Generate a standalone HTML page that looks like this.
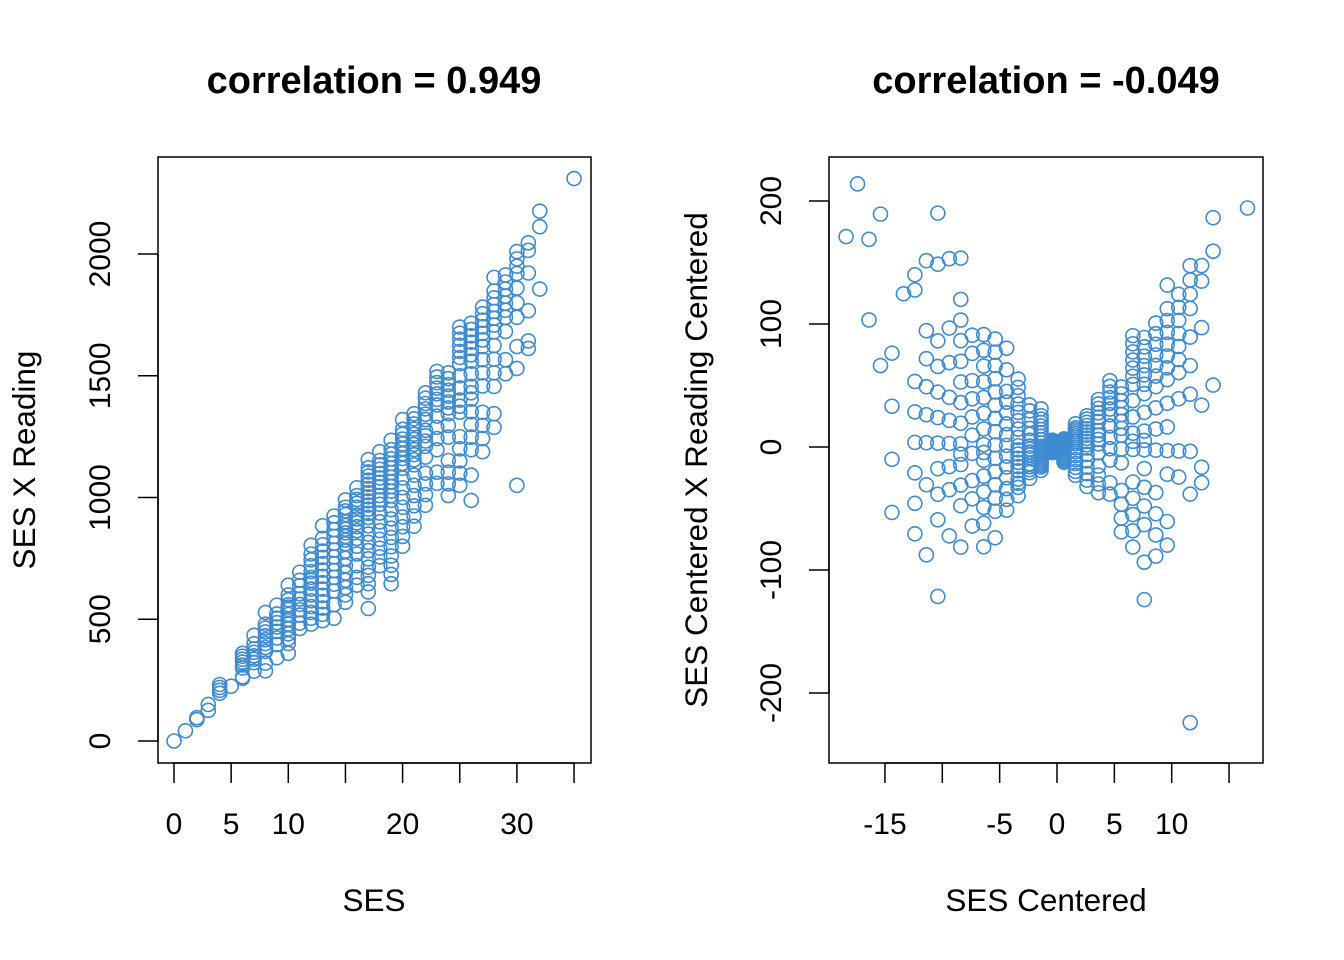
<!DOCTYPE html>
<html><head><meta charset="utf-8"><style>
html,body{margin:0;padding:0;background:#fff}
svg{display:block;font-family:"Liberation Sans",Arial,sans-serif}
</style></head><body>
<svg id="chart" width="1344" height="960" viewBox="0 0 1344 960">
<text x="374" y="93" text-anchor="middle" font-size="38" font-weight="bold">correlation = 0.949</text>
<text x="1046" y="93" text-anchor="middle" font-size="38" font-weight="bold">correlation = -0.049</text>
<rect x="158" y="157" width="433" height="606" fill="none" stroke="#000" stroke-width="1.5"/>
<rect x="829" y="157" width="434" height="606" fill="none" stroke="#000" stroke-width="1.5"/>
<text x="374" y="911" text-anchor="middle" font-size="31.5">SES</text>
<text x="1046" y="911" text-anchor="middle" font-size="31.5">SES Centered</text>
<text transform="translate(35,460) rotate(-90)" text-anchor="middle" font-size="31.5">SES X Reading</text>
<text transform="translate(707,460) rotate(-90)" text-anchor="middle" font-size="31.5">SES Centered X Reading Centered</text>
<g id="axes"></g>
<g id="pts1"></g>
<g id="pts2"></g>
</svg>
<script>
const sesGroups = [0,1,2,3,4,5,6,7,8,9,10,11,12,13,14,15,16,17,18,19,20,21,22,23,24,25,26,27,28,29,30,31,32,35];
const readingGroups = [
[45],[42],[48,44],[50,42],[58,55,52,49],[45],
[60,58,56,54,52,50,44,43],
[62,57,54,52,50,48,46,41],
[66,60,58,56,54,52,50,48,46,40,36],
[62,58,56,54,52,50,47,44,38],
[64,60,58,56,55,54,52,50,48,46,44,42,40,36],
[63,60,58,55,53,51,49,47,44,42],
[67,64,62,60,58,56,55,54,52,50,48,46,44,42,40],
[68,64,62,60,58,56,54,52,50,48,46,44,42,40,38],
[66,64,62,60,58,56,54,52,50,48,46,44,40,36],
[66,64,63,62,60,59,58,57,56,55,54,52,50,48,46,44,42,40,38],
[65,63,62,61,60,58,57,56,55,54,52,50,48,45,42,40],
[68,66,65,64,63,62,61,60,59,58,57,56,55,54,52,50,48,46,44,42,40,38,36,32],
[66,64,63,62,61,60,59,58,56,55,54,52,50,48,46,44,42,40],
[65,63,62,61,60,59,58,57,56,55,54,53,52,50,48,46,44,42,40,38,36,34],
[66,64,63,62,61,60,59,58,57,56,54,52,50,48,46,44,42,40],
[64,63,62,61,60,59,58,57,56,55,54,52,50,48,46,44,42],
[65,64,63,62,61,60,58,57,56,55,53,50,48,46,44],
[66,65,64,63,62,61,60,58,56,54,52,48,46],
[63,62,61,60,59,58,57,56,54,52,48,46,44,42],
[68,67,66,65,64,63,62,60,58,56,55,54,50,48,46,44,42],
[66,65,64,63,62,61,60,58,56,55,54,52,50,48,46,42,38],
[66,65,64,63,62,61,60,58,56,54,50,48,46,44],
[68,66,65,64,63,62,61,60,58,56,54,52,48,46],
[66,65,64,63,62,61,60,58,54,52],
[67,66,65,64,62,60,58,54,51,35],
[66,65,62,57,53,52],
[68,66,58],[66]
];
const leftXTicks = [0,5,10,15,20,25,30,35];
const leftXLabels = {0:"0",5:"5",10:"10",20:"20",30:"30"};
const leftYTicks = [0,500,1000,1500,2000];
const rightXTicks = [-15,-10,-5,0,5,10,15];
const rightXLabels = {"-15":"-15","-5":"-5","0":"0","5":"5","10":"10"};
const rightYTicks = [-200,-100,0,100,200];

const NS="http://www.w3.org/2000/svg";
const lx = v => 174 + v*11.43;
const ly = v => 741 - v*0.2435;
const rx = v => 1057 + v*11.47;
const ry = v => 447 - v*1.23;

const ses=[], rd=[];
sesGroups.forEach((s,i)=>readingGroups[i].forEach(r=>{ses.push(s);rd.push(r);}));
const ms = ses.reduce((a,b)=>a+b,0)/ses.length;
const mr = rd.reduce((a,b)=>a+b,0)/rd.length;

function mk(tag, attrs, parent){const e=document.createElementNS(NS,tag);for(const k in attrs)e.setAttribute(k,attrs[k]);parent.appendChild(e);return e;}
const axes=document.getElementById('axes');
let l=mk('line',{x1:lx(0),x2:lx(35),y1:763,y2:763,stroke:'#000','stroke-width':1.5},axes);


leftXTicks.forEach(t=>{
  const tk=mk('line',{x1:lx(t),x2:lx(t),y1:763,y2:783,stroke:'#000','stroke-width':1.5},axes);
  
  
  if(leftXLabels[t]!==undefined){const tx=mk('text',{x:lx(t),y:834,'text-anchor':'middle','font-size':30},axes);tx.textContent=leftXLabels[t];
  
  }
});
l=mk('line',{x1:158,x2:158,y1:ly(0),y2:ly(2000),stroke:'#000','stroke-width':1.5},axes);


leftYTicks.forEach(t=>{
  const tk=mk('line',{x1:138,x2:158,y1:ly(t),y2:ly(t),stroke:'#000','stroke-width':1.5},axes);
  
  
  const tx=mk('text',{transform:`translate(110,${ly(t)}) rotate(-90)`,'text-anchor':'middle','font-size':30},axes);tx.textContent=String(t);
  
  
});
l=mk('line',{x1:rx(-15),x2:rx(15),y1:763,y2:763,stroke:'#000','stroke-width':1.5},axes);


rightXTicks.forEach(t=>{
  const tk=mk('line',{x1:rx(t),x2:rx(t),y1:763,y2:783,stroke:'#000','stroke-width':1.5},axes);
  
  
  if(rightXLabels[String(t)]!==undefined){const tx=mk('text',{x:rx(t),y:834,'text-anchor':'middle','font-size':30},axes);tx.textContent=rightXLabels[String(t)];
  
  }
});
l=mk('line',{x1:829,x2:829,y1:ry(-200),y2:ry(200),stroke:'#000','stroke-width':1.5},axes);


rightYTicks.forEach(t=>{
  const tk=mk('line',{x1:809,x2:829,y1:ry(t),y2:ry(t),stroke:'#000','stroke-width':1.5},axes);
  
  
  const tx=mk('text',{transform:`translate(781,${ry(t)}) rotate(-90)`,'text-anchor':'middle','font-size':30},axes);tx.textContent=String(t);
  
  
});
const g1=document.getElementById('pts1'), g2=document.getElementById('pts2');
for(let i=0;i<ses.length;i++){
  const c1=mk('circle',{cx:lx(ses[i]),cy:ly(ses[i]*rd[i]),r:7,fill:'none',stroke:'#3f8bd0','stroke-width':1.6},g1);
  
  
  const xc=ses[i]-ms, yc=(ses[i]-ms)*(rd[i]-mr);
  const c2=mk('circle',{cx:rx(xc),cy:ry(yc),r:7,fill:'none',stroke:'#3f8bd0','stroke-width':1.6},g2);
  
  
}
</script>
</body></html>
